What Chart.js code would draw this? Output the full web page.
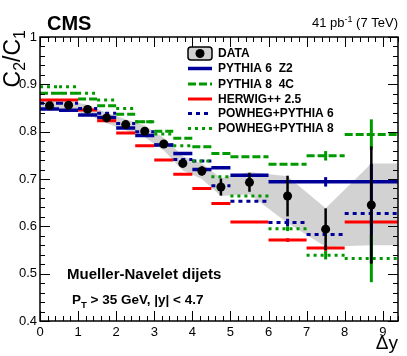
<!DOCTYPE html>
<html lang="en">
<head>
<meta charset="UTF-8"/>
<title>C2/C1 vs Δy - Mueller-Navelet dijets</title>
<script src="https://cdn.jsdelivr.net/npm/chart.js"></script>
<style>
  html, body { margin: 0; padding: 0; background: #fff; }
  #wrap { width: 407px; height: 356px; }
</style>
</head>
<body>
<div id="wrap"><canvas id="chart" width="407" height="356"></canvas></div>
<script>
// --- values ---
const binEdges   = [0, 0.5, 1, 1.5, 2, 2.5, 3, 3.5, 4, 4.5, 5, 6, 7, 8, 9.4];
const binCenters = [0.25, 0.75, 1.25, 1.75, 2.25, 2.75, 3.25, 3.75, 4.25, 4.75, 5.5, 6.5, 7.5, 8.7];

const dataValues  = [0.855, 0.856, 0.847, 0.829, 0.815, 0.801, 0.774, 0.733, 0.717, 0.683, 0.693, 0.664, 0.594, 0.645];
const dataStatErr = [0.004, 0.004, 0.004, 0.004, 0.004, 0.005, 0.006, 0.008, 0.010, 0.018, 0.020, 0.043, 0.044, 0.124];
const dataSysUp   = [0.865, 0.865, 0.857, 0.840, 0.826, 0.813, 0.787, 0.748, 0.733, 0.702, 0.715, 0.706, 0.638, 0.733];
const dataSysDown = [0.845, 0.845, 0.837, 0.818, 0.803, 0.788, 0.760, 0.718, 0.700, 0.664, 0.668, 0.607, 0.557, 0.560];

const pythia6Z2     = [0.848, 0.845, 0.835, 0.830, 0.808, 0.792, 0.772, 0.754, 0.720, 0.724, 0.708, 0.694, 0.694, 0.694];
const pythia6Z2Err  = [0, 0, 0, 0, 0, 0, 0, 0, 0, 0, 0, 0, 0.010, 0];
const pythia84C     = [0.881, 0.881, 0.869, 0.855, 0.837, 0.821, 0.801, 0.786, 0.768, 0.754, 0.747, 0.731, 0.749, 0.794];
const pythia84CErr  = [0, 0, 0, 0, 0, 0, 0, 0, 0, 0, 0, 0, 0.010, 0.032];
const herwig25      = [0.867, 0.867, 0.846, 0.823, 0.797, 0.770, 0.740, 0.710, 0.680, 0.648, 0.609, 0.571, 0.554, 0.609];
const herwig25Err   = [0, 0, 0, 0, 0, 0, 0, 0, 0, 0, 0, 0.004, 0.006, 0.010];
const powhegP6      = [0.860, 0.860, 0.849, 0.839, 0.817, 0.800, 0.772, 0.741, 0.738, 0.686, 0.653, 0.608, 0.583, 0.627];
const powhegP6Err   = [0, 0, 0, 0, 0, 0, 0, 0, 0, 0, 0, 0.008, 0, 0.105];
const powhegP8      = [0.895, 0.895, 0.881, 0.867, 0.849, 0.821, 0.795, 0.770, 0.738, 0.705, 0.664, 0.595, 0.539, 0.532];
const powhegP8Err   = [0, 0, 0, 0, 0, 0, 0, 0, 0, 0, 0, 0.005, 0.009, 0.050];

const xTickLabels = ['0', '1', '2', '3', '4', '5', '6', '7', '8', '9'];
const yTickLabels = ['0.4', '0.5', '0.6', '0.7', '0.8', '0.9', '1'];

const BLUE = '#000099', GREEN = '#009900', RED = '#ff0000', BAND = '#d2d2d2';
const FONT = '"Liberation Sans", Arial, Helvetica, sans-serif';

// histogram as separate horizontal segments (null breaks the line)
function histPoints(vals) {
  const pts = [];
  vals.forEach((v, i) => {
    pts.push({x: binEdges[i], y: v}, {x: binEdges[i + 1], y: v}, {x: binEdges[i + 1], y: null});
  });
  return pts;
}
// band edge: flat to the axis ends
function bandPoints(vals) {
  const pts = [{x: binEdges[0], y: vals[0]}];
  vals.forEach((v, i) => pts.push({x: binCenters[i], y: v}));
  pts.push({x: binEdges[binEdges.length - 1], y: vals[vals.length - 1]});
  return pts;
}

const mcList = [
  {label: 'PYTHIA 6  Z2',     vals: pythia6Z2, err: pythia6Z2Err, color: BLUE,  dash: [],     width: 3.5},
  {label: 'PYTHIA 8  4C',     vals: pythia84C, err: pythia84CErr, color: GREEN, dash: [8, 3], width: 3},
  {label: 'HERWIG++ 2.5',     vals: herwig25,  err: herwig25Err,  color: RED,   dash: [],     width: 3},
  {label: 'POWHEG+PYTHIA 6',  vals: powhegP6,  err: powhegP6Err,  color: BLUE,  dash: [4, 4], width: 3},
  {label: 'POWHEG+PYTHIA 8',  vals: powhegP8,  err: powhegP8Err,  color: GREEN, dash: [3, 4], width: 3}
];

const datasets = [];
// first dataset is drawn on top
datasets.push({
  label: 'DATA', type: 'scatter', showLine: false,
  data: binCenters.map((x, i) => ({x: x, y: dataValues[i]})),
  pointRadius: 4.5, pointBackgroundColor: '#000', pointBorderWidth: 0
});
mcList.slice().reverse().forEach(m => {
  datasets.push({
    label: m.label, data: histPoints(m.vals), borderColor: m.color, borderWidth: m.width,
    borderDash: m.dash, borderCapStyle: 'butt', pointRadius: 0, spanGaps: false, fill: false, tension: 0
  });
});
datasets.push({
  label: 'sysUp', data: bandPoints(dataSysUp), borderWidth: 0, pointRadius: 0,
  fill: '+1', backgroundColor: BAND, tension: 0
});
datasets.push({
  label: 'sysDown', data: bandPoints(dataSysDown), borderWidth: 0, pointRadius: 0, fill: false, tension: 0
});

function vline(ctx, x, y1, y2) { ctx.beginPath(); ctx.moveTo(x, y1); ctx.lineTo(x, y2); ctx.stroke(); }

// error bars: drawn just before the data points
const errorBars = {
  id: 'errorBars',
  beforeDatasetDraw(chart, args) {
    if (chart.data.datasets[args.index].label !== 'DATA') return;
    const {ctx, scales: {x, y}} = chart;
    ctx.save();
    mcList.forEach(m => {
      ctx.strokeStyle = m.color; ctx.lineWidth = 3; ctx.setLineDash([]);
      m.err.forEach((e, i) => {
        if (!e) return;
        const px = x.getPixelForValue(binCenters[i]);
        vline(ctx, px, y.getPixelForValue(m.vals[i] + e), y.getPixelForValue(m.vals[i] - e));
      });
    });
    ctx.strokeStyle = '#000'; ctx.lineWidth = 2.5;
    dataStatErr.forEach((e, i) => {
      const px = x.getPixelForValue(binCenters[i]);
      vline(ctx, px, y.getPixelForValue(dataValues[i] + e), y.getPixelForValue(dataValues[i] - e));
    });
    ctx.restore();
  }
};

// ROOT style frame with inward ticks on all sides
const frameTicks = {
  id: 'frameTicks',
  afterDraw(chart) {
    const {ctx, chartArea: a, scales: {x, y}} = chart;
    ctx.save();
    ctx.strokeStyle = '#000'; ctx.lineWidth = 1;
    for (let i = 0; i <= 47; i++) {
      const px = Math.round(x.getPixelForValue(i * 0.2)) + 0.5;
      const len = i % 5 === 0 ? 10 : 5;
      ctx.beginPath();
      ctx.moveTo(px, a.bottom); ctx.lineTo(px, a.bottom - len);
      ctx.moveTo(px, a.top); ctx.lineTo(px, a.top + len);
      ctx.stroke();
    }
    for (let i = 0; i <= 30; i++) {
      const py = Math.round(y.getPixelForValue(0.4 + i * 0.02)) + 0.5;
      const len = i % 5 === 0 ? 10 : 5;
      ctx.beginPath();
      ctx.moveTo(a.left, py); ctx.lineTo(a.left + len, py);
      ctx.moveTo(a.right, py); ctx.lineTo(a.right - len, py);
      ctx.stroke();
    }
    ctx.lineWidth = 1.5;
    ctx.strokeRect(a.left, a.top, a.right - a.left, a.bottom - a.top);
    ctx.restore();
  }
};

// draw text pieces [text, size, dy] in sequence
function drawPieces(ctx, pieces, x, y, weight, align) {
  let total = 0;
  pieces.forEach(p => { ctx.font = weight + ' ' + p[1] + 'px ' + FONT; total += ctx.measureText(p[0]).width; });
  let cx = align === 'right' ? x - total : x;
  ctx.textAlign = 'left';
  pieces.forEach(p => {
    ctx.font = weight + ' ' + p[1] + 'px ' + FONT;
    ctx.fillText(p[0], cx, y + (p[2] || 0));
    cx += ctx.measureText(p[0]).width;
  });
}

const labelsAndLegend = {
  id: 'labelsAndLegend',
  afterDraw(chart) {
    const {ctx, chartArea: a} = chart;
    ctx.save();
    ctx.fillStyle = '#000';
    ctx.textBaseline = 'alphabetic';
    // header
    drawPieces(ctx, [['CMS', 20]], 47, 30, 'bold', 'left');
    drawPieces(ctx, [['41 pb', 13], ['-1', 9, -5], [' (7 TeV)', 13]], a.right, 27, 'normal', 'right');
    // axis titles
    drawPieces(ctx, [['\u0394y', 19]], a.right, 349, 'normal', 'right');
    ctx.save();
    ctx.translate(20, 30);
    ctx.rotate(-Math.PI / 2);
    drawPieces(ctx, [['C', 23], ['2', 16, 5], ['/C', 23], ['1', 16, 5]], 0, 0, 'normal', 'right');
    ctx.restore();
    // annotation
    drawPieces(ctx, [['Mueller-Navelet dijets', 15]], 67, 279, 'bold', 'left');
    drawPieces(ctx, [['P', 13.5], ['T', 9.5, 4], [' > 35 GeV, |y| < 4.7', 13.5]], 72, 304, 'bold', 'left');

    // legend
    const lx1 = 188, lx2 = 212, tx = 218;
    const rows = [53.5, 68.5, 84, 99, 113.5, 128.5];
    // DATA entry
    ctx.fillStyle = BAND;
    ctx.strokeStyle = '#000'; ctx.lineWidth = 1.5;
    ctx.beginPath();
    ctx.roundRect(lx1, rows[0] - 6.5, lx2 - lx1, 13, 3);
    ctx.fill(); ctx.stroke();
    ctx.fillStyle = '#000';
    ctx.beginPath(); ctx.arc((lx1 + lx2) / 2, rows[0], 4.5, 0, 2 * Math.PI); ctx.fill();
    ctx.textBaseline = 'middle';
    drawPieces(ctx, [['DATA', 12]], tx, rows[0] + 0.5, 'bold', 'left');
    mcList.forEach((m, i) => {
      const ry = rows[i + 1];
      ctx.strokeStyle = m.color; ctx.lineWidth = m.width; ctx.setLineDash(m.dash);
      ctx.beginPath(); ctx.moveTo(lx1, ry); ctx.lineTo(lx2, ry); ctx.stroke();
      ctx.setLineDash([]);
      ctx.fillStyle = '#000';
      drawPieces(ctx, [[m.label, 12]], tx, ry + 0.5, 'bold', 'left');
    });
    ctx.restore();
  }
};

new Chart(document.getElementById('chart').getContext('2d'), {
  type: 'line',
  data: {datasets: datasets},
  options: {
    responsive: false,
    animation: false,
    devicePixelRatio: 1,
    layout: {padding: {top: 37, right: 9, left: 0, bottom: 0}},
    plugins: {legend: {display: false}, tooltip: {enabled: false}},
    scales: {
      x: {
        type: 'linear', min: 0, max: 9.4,
        grid: {display: false, drawTicks: false}, border: {display: false},
        ticks: {
          stepSize: 1, includeBounds: false, padding: 4, color: '#000',
          font: {family: FONT, size: 13},
          maxRotation: 0, autoSkip: false,
          callback: (v, i) => xTickLabels[i]
        },
        afterFit: s => { s.height = 35; }
      },
      y: {
        type: 'linear', min: 0.4, max: 1,
        grid: {display: false, drawTicks: false}, border: {display: false},
        ticks: {
          stepSize: 0.1, padding: 3, color: '#000',
          font: {family: FONT, size: 13},
          callback: (v, i) => yTickLabels[i]
        },
        afterFit: s => { s.width = 40; }
      }
    }
  },
  plugins: [errorBars, frameTicks, labelsAndLegend]
});
</script>
</body>
</html>
